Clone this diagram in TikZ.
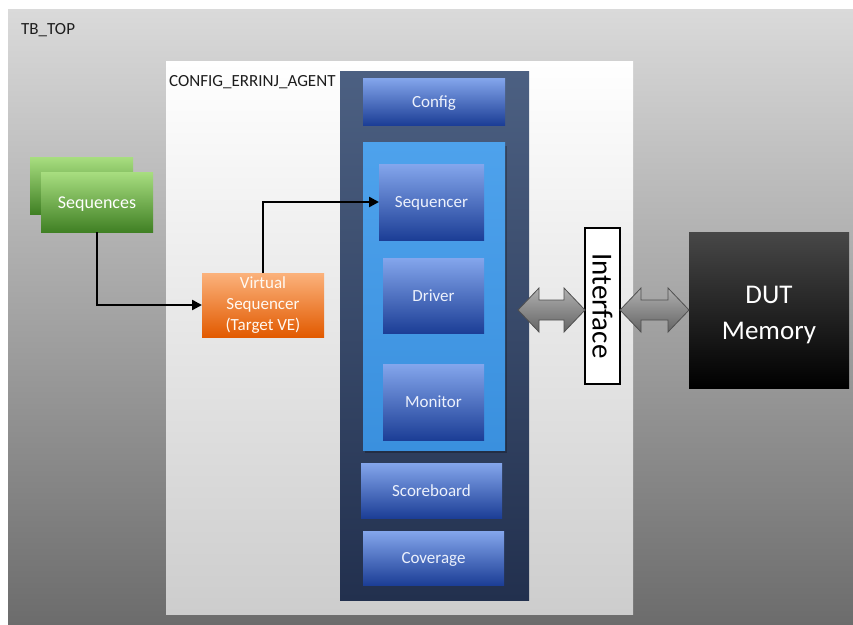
\documentclass[tikz,border=0pt]{standalone}
\usepackage{fontspec}
\usepackage{graphicx}
\setmainfont{Carlito}
\usetikzlibrary{arrows.meta,calc}
\definecolor{bgtop}{RGB}{218,218,218}
\definecolor{bgmid}{RGB}{186,186,186}
\definecolor{bgbot}{RGB}{108,108,108}
\definecolor{cfgbot}{RGB}{205,205,205}
\definecolor{agtop}{RGB}{76,96,130}
\definecolor{agbot}{RGB}{34,48,78}
\definecolor{bltop}{RGB}{132,166,236}
\definecolor{blbot}{RGB}{28,62,150}
\definecolor{conttop}{RGB}{78,162,236}
\definecolor{contbot}{RGB}{58,144,222}
\definecolor{grtop}{RGB}{168,222,128}
\definecolor{grbot}{RGB}{64,128,36}
\definecolor{ortop}{RGB}{251,178,124}
\definecolor{orbot}{RGB}{226,90,0}
\definecolor{boxtext}{RGB}{236,241,252}
\definecolor{arrtop}{RGB}{176,176,176}
\definecolor{arrbot}{RGB}{100,100,100}
\definecolor{arredge}{RGB}{80,80,80}
\definecolor{labeltext}{RGB}{30,30,30}
\newcommand\fatdarrow[2]{%
  \path[fatarrow] (#1) -- ($(#1)+(21,-22)$) -- ($(#1)+(21,-10)$) -- ($(#2)+(-21,-10)$)
   -- ($(#2)+(-21,-22)$) -- (#2) -- ($(#2)+(-21,22)$) -- ($(#2)+(-21,10)$)
   -- ($(#1)+(21,10)$) -- ($(#1)+(21,22)$) -- cycle;}
\begin{document}
\begin{tikzpicture}[x=1pt,y=-1pt,
  box/.style={anchor=north west, inner sep=0pt, outer sep=0pt},
  bluebox/.style={box, top color=bltop, bottom color=blbot, text=boxtext,
    font=\fontsize{17}{20}\selectfont, text height=11pt, text depth=0pt},
  greenbox/.style={box, top color=grtop, bottom color=grbot, text=white,
    font=\fontsize{18}{21}\selectfont, text height=12pt, text depth=0pt},
  conn/.style={line width=2.4pt, -{Triangle[length=10pt,width=10pt]}},
  fatarrow/.style={top color=arrtop, bottom color=arrbot, draw=arredge, line width=0.8pt, line join=miter},
  title/.style={anchor=base west, inner sep=0pt, text=labeltext, font=\fontsize{17}{20}\selectfont}
]
\useasboundingbox (0,0) rectangle (853,624);
\fill[white] (0,0) rectangle (853,624);
\shade[top color=bgtop, middle color=bgmid, bottom color=bgbot] (8,9) rectangle (853,624);
\node[title] (tbtop) at (21,34) {TB\_TOP};

% agent area
\node[box, minimum width=467pt, minimum height=553pt, top color=white, middle color=white!97!black, bottom color=cfgbot] (cfg) at (166,61) {};
\node[title] (cfglabel) at (169,86) {CONFIG\_ERRINJ\_AGENT};
\node[box, minimum width=189pt, minimum height=529pt, top color=agtop, bottom color=agbot] (agent) at (340,71) {};

\node[bluebox, minimum width=142pt, minimum height=47pt] (config) at (363,78) {Config};
\fill[black, opacity=0.25] (365,146) rectangle (507,453);
\node[box, minimum width=142pt, minimum height=308pt, top color=conttop, bottom color=contbot] (cont) at (363,142) {};
\node[bluebox, minimum width=105pt, minimum height=76pt] (seqr) at (379,164) {Sequencer};
\node[bluebox, minimum width=101pt, minimum height=75pt] (drv) at (383,258) {Driver};
\node[bluebox, minimum width=101pt, minimum height=76pt] (mon) at (383,364) {Monitor};
\node[bluebox, minimum width=141pt, minimum height=55pt] (sb) at (361,463) {Scoreboard};
\node[bluebox, minimum width=141pt, minimum height=54pt] (cov) at (363,531) {Coverage};

% sequences
\node[greenbox, minimum width=103pt, minimum height=57pt] (seqsback) at (30,157) {};
\node[greenbox, minimum width=112pt, minimum height=60pt] (seqs) at (41,172) {Sequences};

% virtual sequencer
\node[box, minimum width=122pt, minimum height=64pt, top color=ortop, bottom color=orbot, text=white!95!orange,
  align=center, font=\fontsize{17}{21}\selectfont] (vs) at (202,273) {Virtual\\Sequencer\\(Target VE)};

% interface and DUT
\node[box, minimum width=35pt, minimum height=156pt, draw=black, line width=1.2pt, fill=white,
  font=\fontsize{29}{32}\selectfont] (iface) at (585,228) {\rotatebox{-90}{Interface}};
\node[box, minimum width=160pt, minimum height=156pt, top color=black!72, middle color=black, bottom color=black,
  text=white, font=\fontsize{27}{35}\selectfont] (dut) at (689,232)
  {\raisebox{-4pt}[\height][\depth]{\begin{tabular}{@{}c@{}}DUT\\[1pt]Memory\end{tabular}}};

% connectors
\draw[conn] (seqs.south) |- (vs.west);
\draw[conn] (vs.north) |- (seqr.west);

\coordinate (a1l) at (518,310);
\coordinate (a1r) at (iface.west |- a1l);
\coordinate (a2l) at (iface.east |- a1l);
\coordinate (a2r) at (dut.west |- a1l);
\fatdarrow{a1l}{a1r}
\fatdarrow{a2l}{a2r}
\end{tikzpicture}
\end{document}
